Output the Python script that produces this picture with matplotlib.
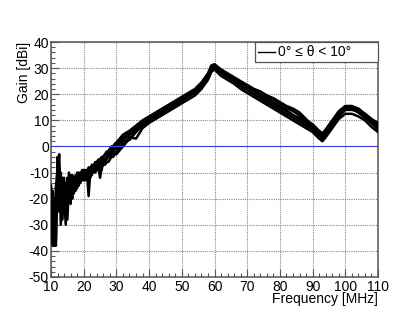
import matplotlib
matplotlib.use("Agg")
import matplotlib.pyplot as plt
from matplotlib.ticker import MultipleLocator
from matplotlib.patches import Rectangle
from matplotlib.lines import Line2D

plt.rcParams['font.family'] = ['Liberation Sans', 'DejaVu Sans']
plt.rcParams['axes.unicode_minus'] = False

# Frequency grid [MHz]
freq = [10, 10.5, 11, 11.5, 12, 12.5, 13, 13.5, 14, 14.5, 15, 15.5, 16, 16.5, 17, 17.5,
        18, 18.5, 19, 19.5, 20, 20.5, 21, 21.5, 22, 22.5, 23, 23.5, 24, 24.5, 25, 25.5,
        26, 26.5, 27, 27.5, 28, 28.5, 29, 29.5, 30,
        32, 34, 36, 38, 40, 42, 44, 46, 48, 50, 52, 54, 56, 58, 59, 60, 62, 64, 66, 68,
        70, 72, 74, 76, 78, 80, 82, 84, 86, 88, 90, 92, 93, 94, 96, 98, 100, 102, 104,
        106, 108, 110]

gain_a = [-18, -30, -37, -25, -5, -20, -14, -28, -12, -22, -15, -20, -12, -17, -13, -15,
          -12, -13, -11, -12, -10, -11, -9, -10, -8, -9, -7, -7, -6, -6, -5, -5,
          -4, -3, -3, -2, -1, -1, 0, 0.5, 1,
          3.5, 5, 7, 9, 10.5, 12, 13.5, 15, 16.5, 18, 19.5, 21, 23.5, 27, 30, 30.5, 28.5, 27, 25.5, 24,
          22.5, 21, 19.5, 18, 16.5, 15, 13.5, 12, 10.5, 9, 7.5, 5, 4, 5.5, 9, 12.5, 14.5, 14.5, 13,
          11.5, 9.5, 7.5]
gain_b = [-22, -38, -20, -36, -10, -3, -22, -18, -26, -14, -24, -13, -19, -14, -16, -12,
          -14, -11, -13, -10, -11, -12, -10, -19, -10, -8, -9, -8, -7, -7, -6, -6,
          -5, -5, -4, -3, -3, -2, -2, -1, -1,
          0.5, 3.5, 3, 7, 9, 10.5, 12, 13.5, 15, 16.5, 18, 19.5, 22, 25.5, 28.5, 29.5, 27, 25.5, 24, 22,
          20.5, 19, 17.5, 16, 14.5, 13, 11.5, 10, 8.5, 7, 5.5, 3, 2, 3.5, 7, 10.5, 12.5, 12.5, 11.5,
          10, 7.5, 5.5]
gain_c = [-15, -25, -38, -30, -15, -8, -30, -16, -20, -27, -12, -18, -22, -11, -15, -14,
          -10, -13, -12, -9, -12, -9, -11, -8, -9, -7, -8, -6, -6, -5, -5, -4,
          -4, -3, -2, -2, -1, 0, 0, 1, 1.5,
          4.5, 6, 8, 10, 11.5, 13, 14.5, 16, 17.5, 19, 20.5, 22, 24.5, 28, 31, 31.5, 29.5, 28, 26.5, 25,
          23.5, 22, 21, 19.5, 18, 16.5, 15, 13.5, 12, 10, 8.5, 6, 5, 6.5, 10, 13.5, 15.5, 15.5, 14.5,
          12.5, 10.5, 9]
gain_d = [-20, -35, -28, -38, -4, -12, -18, -24, -16, -30, -18, -10, -16, -20, -12, -17,
          -15, -10, -14, -11, -13, -10, -12, -9, -11, -9, -10, -8, -8, -9, -7, -7,
          -6, -6, -5, -4, -4, -3, -3, -2, -2.5,
          2, 2.5, 5.5, 8, 9.5, 11.5, 13, 14.5, 16, 17.5, 19, 20.5, 23, 26.5, 29.5, 30, 28, 26.5, 25, 23,
          21.5, 20, 18.5, 17, 15.5, 14, 12.5, 11, 9.5, 8, 6.5, 4, 3, 4.5, 8.5, 12, 14, 14, 13.5,
          11.5, 9, 6.5]
gain_e = [-25, -17, -33, -20, -8, -16, -25, -12, -22, -17, -28, -15, -14, -18, -14, -11,
          -16, -12, -12, -13, -10, -11, -12, -10, -12, -10, -9, -10, -9, -8, -12, -8,
          -7, -7, -6, -6, -5, -4, -4, -3, -3,
          0, 3, 6, 8, 10, 11.5, 13, 14.5, 16, 17.5, 19.5, 21, 23, 26.5, 29.5, 30.5, 28.5, 27, 25.5, 24,
          23, 21.5, 20, 18.5, 17, 15.5, 14, 12, 11, 9, 7, 4.5, 3.5, 5, 8, 11.5, 14, 14.5, 13,
          11, 9, 7]
gain_f = [-30, -20, -36, -15, -12, -25, -10, -20, -14, -19, -21, -17, -11, -15, -18, -13,
          -12, -15, -10, -12, -9, -13, -10, -11, -9, -11, -8, -9, -7, -7, -6, -9,
          -5, -5, -4, -4, -2, -2, -1, -1, 0,
          2.5, 4.5, 6.5, 8.5, 10.5, 12, 13.5, 15, 16.5, 18, 19.5, 21.5, 24, 27.5, 30, 30.5, 29, 27.5, 26, 24.5,
          23.5, 22, 21, 19.5, 18.5, 17, 15.5, 14.5, 13, 10.5, 8, 5, 4, 5.5, 9, 12.5, 15, 15, 14,
          12.5, 10.5, 8]

series = [gain_a, gain_b, gain_c, gain_d, gain_e, gain_f]
legend_label = "0° ≤ θ < 10°"

W, H = 407, 326
fig = plt.figure(figsize=(W / 100, H / 100), dpi=100)
ax = fig.add_axes([51 / W, 1 - 277 / H, (378 - 51) / W, (277 - 42) / H])

for g in series:
    ax.plot(freq, g, color='black', lw=1.8, solid_joinstyle='round', zorder=3)

ax.axhline(0, color='#3c3ce0', lw=0.8, zorder=4)

ax.set_xlim(10, 110)
ax.set_ylim(-50, 40)
ax.xaxis.set_major_locator(MultipleLocator(10))
ax.xaxis.set_minor_locator(MultipleLocator(2))
ax.yaxis.set_major_locator(MultipleLocator(10))
ax.yaxis.set_minor_locator(MultipleLocator(2))
ax.grid(True, which='major', color='#888888', linestyle=(0, (1, 1)), lw=0.8, zorder=1)
ax.tick_params(which='both', direction='in', top=False, right=False, colors='#555555',
               labelcolor='black', labelsize=10)
ax.tick_params(which='major', length=5.5, width=0.8)
ax.tick_params(which='minor', length=2.8, width=0.8)
ax.tick_params(axis='y', pad=1.5)
ax.tick_params(axis='x', pad=2.5)
for s in ax.spines.values():
    s.set_color('#555555')
    s.set_linewidth(1.1)

fig.text(24 / W, 1 - 42 / H, 'Gain [dBi]', rotation=90, ha='center', va='top', fontsize=10)
fig.text(378 / W, 1 - 298.5 / H, 'Frequency [MHz]', ha='right', va='center', fontsize=10)

# Legend box
fig.patches.append(Rectangle((255 / W, 1 - 62 / H), (378 - 255) / W, 20 / H,
                             transform=fig.transFigure, facecolor='white',
                             edgecolor='#555555', lw=0.9, zorder=5))
fig.lines.append(Line2D([258 / W, 275 / W], [1 - 51.5 / H, 1 - 51.5 / H],
                        transform=fig.transFigure, color='black', lw=1.0, zorder=6))
fig.text(278 / W, 1 - 51.5 / H, legend_label, ha='left', va='center', fontsize=10, zorder=7)

fig.savefig('out.png', dpi=100)
